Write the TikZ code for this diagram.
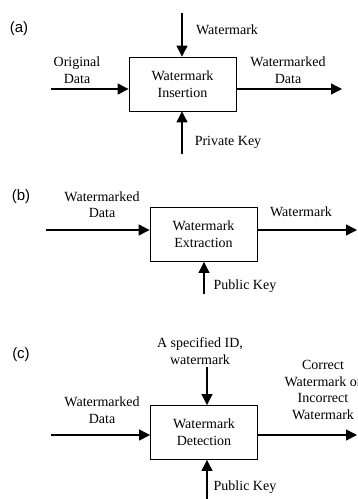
\documentclass[tikz,border=0pt]{standalone}
\usepackage{fontspec}
\setmainfont{Liberation Serif}
\newfontfamily\panelfont{Liberation Sans}
\usetikzlibrary{arrows.meta,positioning}

\tikzset{
  blk/.style={draw, line width=0.9pt, minimum width=107pt, minimum height=54pt,
    inner sep=0pt, align=center, font=\fontsize{14}{17}\selectfont},
  lbl/.style={inner sep=0pt, align=center, font=\fontsize{14}{16.5}\selectfont},
  tag/.style={inner sep=0pt, font=\panelfont\fontsize{15}{18}\selectfont},
  arr/.style={line width=1.3pt, -{Triangle[length=11pt,width=11pt]}}
}

\begin{document}
\begin{tikzpicture}[x=1pt,y=-1pt]
\useasboundingbox (0,0) rectangle (357,499);

% (a) insertion
\node[tag] (ta) at (19,29) {(a)};
\node[blk] (ins) at (182.5,84) {Watermark\\Insertion};
\coordinate (ain) at (51,89);
\coordinate (aout) at (342,89);
\coordinate (awm) at (182,13);
\coordinate (akey) at (182,154);
\draw[arr] (ain) -- (ain -| ins.west);
\draw[arr] (ins.east |- aout) -- (aout);
\draw[arr] (awm) -- (awm |- ins.north);
\draw[arr] (akey) -- (akey |- ins.south);
\node[lbl] (alin) at (77,70) {Original\\Data};
\node[lbl] (alout) at (288,70) {Watermarked\\Data};
\node[lbl] (alwm) at (227,30) {Watermark};
\node[lbl] (alkey) at (228,142) {Private Key};

% (b) extraction
\node[tag] (tb) at (21,197) {(b)};
\node[blk] (ext) at (203.5,234.5) {Watermark\\Extraction};
\coordinate (bin) at (46,230);
\coordinate (bout) at (357,230);
\coordinate (bkey) at (204,294);
\draw[arr] (bin) -- (bin -| ext.west);
\draw[arr] (ext.east |- bout) -- (bout);
\draw[arr] (bkey) -- (bkey |- ext.south);
\node[lbl] (blin) at (102,204.5) {Watermarked\\Data};
\node[lbl] (blout) at (301,212) {Watermark};
\node[lbl] (blkey) at (245,286) {Public Key};

% (c) detection
\node[tag] (tc) at (21,355) {(c)};
\node[blk] (det) at (204,432.5) {Watermark\\Detection};
\coordinate (cin) at (51,435);
\coordinate (cout) at (357,435);
\coordinate (cid) at (207,367);
\coordinate (ckey) at (207,499);
\draw[arr] (cin) -- (cin -| det.west);
\draw[arr] (det.east |- cout) -- (cout);
\draw[arr] (cid) -- (cid |- det.north);
\draw[arr] (ckey) -- (ckey |- det.south);
\node[lbl] (clid) at (200,351) {A specified ID,\\watermark};
\node[lbl] (clin) at (102,410) {Watermarked\\Data};
\node[lbl] (clout) at (323,390) {Correct\\Watermark or\\Incorrect\\Watermark};
\node[lbl] (clkey) at (245,487) {Public Key};
\end{tikzpicture}
\end{document}
